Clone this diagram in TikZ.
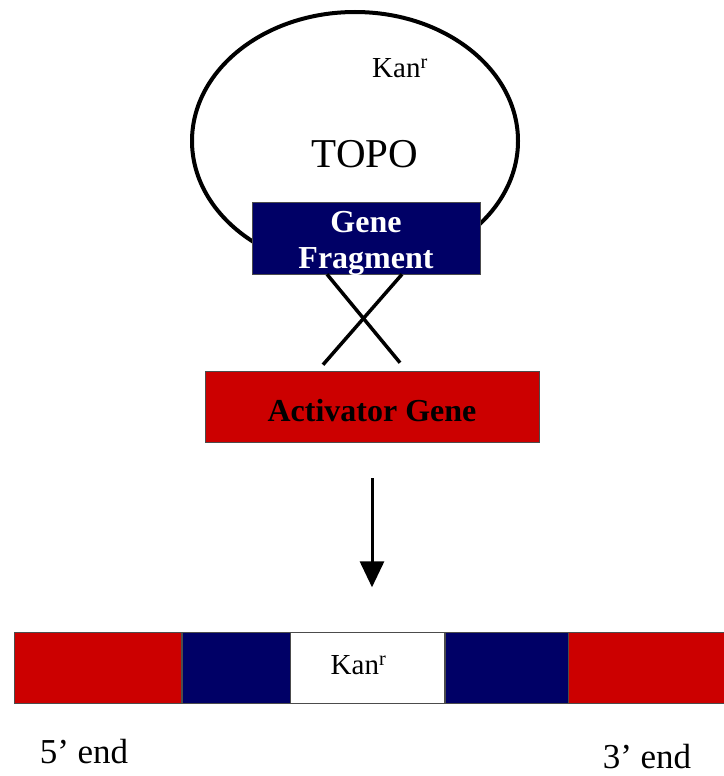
\documentclass[tikz,border=0pt]{standalone}
\usepackage{fontspec}
\setmainfont{Liberation Serif}
\usetikzlibrary{arrows.meta, calc, positioning}

\definecolor{genenavy}{RGB}{0,0,102}
\definecolor{genered}{RGB}{204,0,0}

\begin{document}
\begin{tikzpicture}[x=1pt, y=-1pt,
	box/.style={draw=black!70, line width=0.6pt, inner sep=0pt, minimum height=71pt},
	crossline/.style={line width=3.5pt},
	txt/.style={font=\fontsize{29}{34}\selectfont},
	endtxt/.style={font=\fontsize{35}{40}\selectfont},
	boldtxt/.style={font=\fontsize{32}{36}\selectfont\bfseries, align=center}]
	
	\useasboundingbox (0,0) rectangle (723,776);
	
	% -------------------------------------------------
	% 1. TOPO vector loop
	% -------------------------------------------------
	\draw[line width=4pt] (355,141) ellipse (163 and 129);
	\node[txt] (kanloop) at (400,68) {Kan\textsuperscript{r}};
	\node[font=\fontsize{41}{46}\selectfont] (topo) at (365,154) {TOPO};
	
	\node[box, fill=genenavy, minimum width=228pt, minimum height=72pt] (fragment) at (366,238) {};
	\node[boldtxt, text=white] (fraglabel) at ($(fragment.center)+(0,5)$) {Gene\\[0pt]Fragment};
	
	% -------------------------------------------------
	% 2. Crossover with activator gene
	% -------------------------------------------------
	\node[box, fill=genered, minimum width=334pt] (activator) at (372,406.5) {};
	\node[boldtxt] (actlabel) at ($(activator.center)+(0,4)$) {Activator Gene};
	
	\coordinate (crossL) at ($(fragment.south)+(-39,0)$);
	\coordinate (crossR) at ($(fragment.south)+(36,0)$);
	\coordinate (endL) at ($(activator.north)+(-49,-6)$);
	\coordinate (endR) at ($(activator.north)+(28,-8)$);
	\draw[crossline] (crossL) -- (endR);
	\draw[crossline] (crossR) -- (endL);
	
	% -------------------------------------------------
	% 3. Result arrow
	% -------------------------------------------------
	\coordinate (arrowtop) at ($(activator.south)+(0,36)$);
	\coordinate (arrowtip) at ($(activator.south)+(0,145)$);
	\draw[line width=3pt, -{Triangle[length=26pt, width=24pt]}] (arrowtop) -- (arrowtip);
	
	% -------------------------------------------------
	% 4. Integrated construct
	% -------------------------------------------------
	\node[box, fill=genered, minimum width=167pt, anchor=west] (redA) at (14,667.5) {};
	\node[box, fill=genenavy, minimum width=108pt, right=0pt of redA] (navyA) {};
	\node[box, fill=white, minimum width=154pt, right=0pt of navyA] (kanbar) {};
	\node[box, fill=genenavy, minimum width=123pt, right=0pt of kanbar] (navyB) {};
	\node[box, fill=genered, minimum width=157pt, right=0pt of navyB] (redB) {};
	\node[txt] (kanlabel) at ($(kanbar.center)+(-9,-2)$) {Kan\textsuperscript{r}};
	
	\node[endtxt] (five) at (84,752) {5’ end};
	\node[endtxt] (three) at (647,757) {3’ end};
	
\end{tikzpicture}
\end{document}
